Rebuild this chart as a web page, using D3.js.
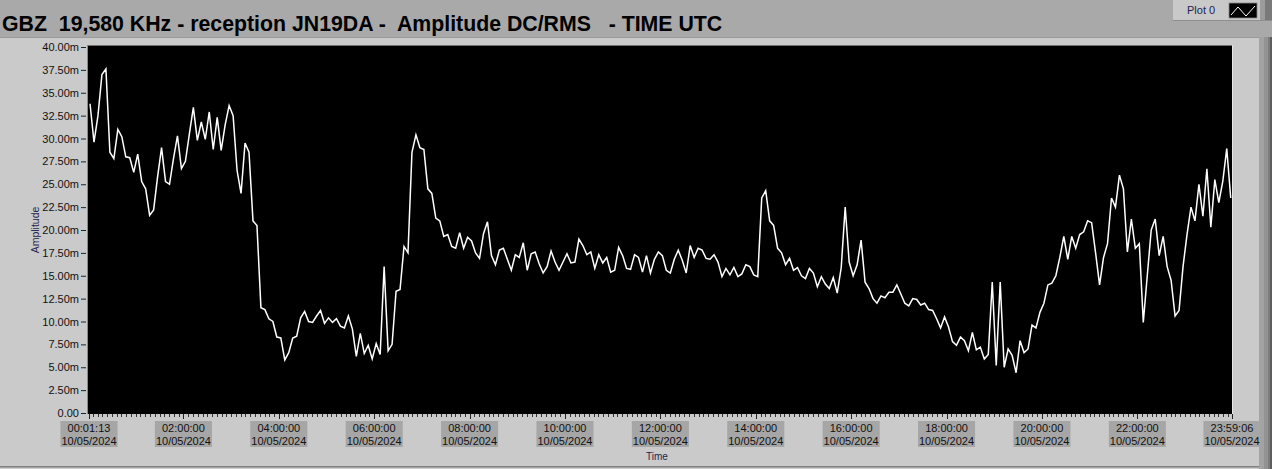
<!DOCTYPE html>
<html><head><meta charset="utf-8">
<script src="https://cdn.jsdelivr.net/npm/d3@7"></script>
<style>
html,body{margin:0;padding:0;background:#cacaca;overflow:hidden}
svg{display:block}
text{font-family:"Liberation Sans",Arial,sans-serif}
</style>
</head><body>
<svg id="c" width="1272" height="469"></svg>
<script>
// ---------------- data ----------------
const titleText = "GBZ  19,580 KHz - reception JN19DA -  Amplitude DC/RMS   - TIME UTC";
const legendLabel = "Plot 0";
const yAxisLabel = "Amplitude";
const xAxisLabel = "Time";
const dateLabel = "10/05/2024";
const timeStart = "2024-05-10 00:01:13";
const timeEnd = "2024-05-10 23:59:06";
const xTickTimes = ["00:01:13","02:00:00","04:00:00","06:00:00","08:00:00","10:00:00","12:00:00","14:00:00","16:00:00","18:00:00","20:00:00","22:00:00","23:59:06"];
const yTickValues = [0,2.5,5,7.5,10,12.5,15,17.5,20,22.5,25,27.5,30,32.5,35,37.5,40];
const minorTickMinutes = 6;
// samples every 5 minutes, first sample at 00:02:30 (amplitude in mV)
const sampleStartMinute = 2.5;
const sampleStepMinutes = 5;
const amplitude = [
 33.8,29.6, 32.5,37.0, 37.6,28.5, 27.8,31.0, 30.2,28.0, 27.9,26.3, 28.3,25.3, 24.5,21.6, 22.2,25.8, 29.0,25.3,
 25.0,27.8, 30.3,26.7, 27.5,30.5, 33.4,29.8, 31.8,29.9, 32.9,28.8, 32.3,28.7, 31.5,33.6, 32.5,26.5, 24.0,29.5,
 28.5,21.0, 20.5,11.5, 11.3,10.3, 10.0,8.3, 8.2,5.8, 6.6,8.2, 8.4,10.4, 11.1,10.0, 9.9,10.6, 11.2,9.8,
 10.4,9.9, 10.3,9.5, 9.3,10.6, 9.2,6.2, 8.7,6.5, 7.4,5.9, 7.6,6.4, 16.0,6.8, 7.5,13.3, 13.5,18.2,
 17.5,28.5, 30.4,29.0, 28.8,24.5, 24.0,21.3, 21.0,19.3, 19.5,18.2, 18.0,19.7, 18.0,19.2, 18.8,17.5, 16.9,19.6,
 20.9,17.2, 16.2,17.8, 18.0,16.8, 15.6,17.3, 17.0,18.6, 15.6,17.4, 17.6,16.3, 15.3,16.0, 17.7,16.5, 15.6,16.5,
 17.4,16.4, 16.5,19.0, 18.3,17.3, 17.6,15.8, 17.3,16.4, 17.0,15.4, 15.6,18.1, 17.2,15.8, 15.7,17.3, 17.0,15.4,
 17.2,15.3, 16.8,17.6, 17.2,15.6, 15.3,16.8, 17.8,16.7, 15.3,18.3, 17.0,18.0, 17.8,16.9, 16.8,17.3, 16.5,14.9,
 15.8,15.1, 15.9,14.9, 15.2,16.2, 16.0,15.1, 14.9,23.5, 24.3,21.0, 20.5,18.0, 17.5,16.2, 16.9,15.6, 15.9,15.0,
 14.7,15.8, 15.3,13.8, 14.9,14.1, 13.6,14.8, 13.1,15.9, 22.5,16.5, 15.0,16.2, 18.9,14.3, 13.6,12.5, 12.0,12.8,
 12.6,13.2, 13.2,14.0, 13.0,12.0, 11.7,12.5, 12.4,11.8, 12.0,11.3, 11.2,10.3, 9.3,10.5, 9.4,7.8, 7.4,8.3,
 7.9,6.8, 8.8,6.9, 7.2,5.9, 6.4,14.3, 5.2,14.3, 5.0,7.0, 6.3,4.4, 7.9,6.6, 7.0,9.6, 9.3,11.0,
 12.0,14.0, 14.2,15.0, 17.0,19.3, 16.8,19.3, 18.0,19.5, 19.8,21.0, 20.8,17.5, 14.0,17.0, 18.5,23.5, 22.5,26.0,
 24.5,17.6, 21.2,18.0, 18.5,9.9, 15.0,20.0, 21.2,17.2, 19.3,16.0, 14.5,10.6, 11.2,16.0, 19.5,22.5, 21.0,25.0,
 21.5,26.7, 20.3,25.5, 23.0,25.3, 28.9,23.5
];

// ---------------- drawing ----------------
const W = 1272, H = 469;
const P = {left: 89, right: 1232, top: 46, bottom: 414};
const svg = d3.select("#c");
const parse = d3.timeParse("%Y-%m-%d %H:%M:%S");
const t0 = parse(timeStart), t1 = parse(timeEnd);
const day0 = d3.timeDay.floor(t0);

const x = d3.scaleTime().domain([t0, t1]).range([P.left, P.right]);
const y = d3.scaleLinear().domain([0, 40]).range([413, 47]);

// panel backgrounds
svg.append("rect").attr("width", W).attr("height", H).attr("fill", "#cacaca");
svg.append("rect").attr("width", W).attr("height", 37).attr("fill", "#a9a9a9");
svg.append("rect").attr("x", 0).attr("y", 37).attr("width", 1259).attr("height", 1).attr("fill", "#999999");
// right bevel strips
[[1259,5,"#a3a3a3"],[1264,4,"#939393"],[1268,2,"#7c7c7c"],[1270,2,"#5e5e5e"]].forEach(s =>
  svg.append("rect").attr("x", s[0]).attr("y", 37).attr("width", s[1]).attr("height", H - 37).attr("fill", s[2]));
svg.append("rect").attr("x", 0).attr("y", 466).attr("width", 1259).attr("height", 1.5).attr("fill", "#808080");

// legend box
svg.append("rect").attr("x", 1173).attr("y", 0).attr("width", 87).attr("height", 20).attr("fill", "#c9c9c9");
svg.append("rect").attr("x", 1173).attr("y", 20).attr("width", 99).attr("height", 1).attr("fill", "#8e8e8e");
svg.append("rect").attr("x", 1260).attr("y", 0).attr("width", 5).attr("height", 20).attr("fill", "#9c9c9c");
svg.append("rect").attr("x", 1265).attr("y", 0).attr("width", 7).attr("height", 20).attr("fill", "#7a7a7a");
svg.append("text").attr("x", 1187).attr("y", 14).attr("font-size", 11).attr("fill", "#1d2450").text(legendLabel);
svg.append("rect").attr("x", 1229).attr("y", 3).attr("width", 28).attr("height", 15).attr("fill", "#000").attr("stroke", "#888").attr("stroke-width", 0.8);
svg.append("polyline").attr("points", "1231,15 1238,7 1246,16 1255,6").attr("fill", "none").attr("stroke", "#fff").attr("stroke-width", 1);

// title
svg.append("text").attr("x", 2).attr("y", 31).attr("font-size", 21.3).attr("font-weight", "bold")
  .attr("fill", "#000").style("white-space", "pre").attr("xml:space", "preserve").text(titleText);

// plot area
svg.append("rect").attr("x", P.left - 1).attr("y", P.top).attr("width", P.right - P.left + 1).attr("height", P.bottom - P.top).attr("fill", "#000");
svg.append("rect").attr("x", P.left - 1).attr("y", P.top - 1).attr("width", P.right - P.left + 2).attr("height", 1).attr("fill", "#707070");
svg.append("rect").attr("x", P.left - 2).attr("y", P.top - 1).attr("width", 1).attr("height", P.bottom - P.top + 1).attr("fill", "#8a8a8a");
svg.append("rect").attr("x", P.right).attr("y", P.top - 1).attr("width", 1).attr("height", P.bottom - P.top + 1).attr("fill", "#e6e6e6");

svg.append("clipPath").attr("id", "clip").append("rect")
  .attr("x", P.left - 1).attr("y", P.top).attr("width", P.right - P.left + 1).attr("height", P.bottom - P.top);

const data = amplitude.map((v, i) => ({t: d3.timeSecond.offset(day0, Math.round((sampleStartMinute + i * sampleStepMinutes) * 60)), v}));
const line = d3.line().x(d => x(d.t)).y(d => y(d.v));
svg.append("path").datum(data).attr("clip-path", "url(#clip)")
  .attr("d", line).attr("fill", "none").attr("stroke", "#fff").attr("stroke-width", 1.5).attr("stroke-linejoin", "miter");

// y axis
const yAxis = d3.axisLeft(y).tickValues(yTickValues).tickSize(5).tickPadding(2)
  .tickFormat(v => v === 0 ? "0.00" : v.toFixed(2) + "m");
const gy = svg.append("g").attr("transform", `translate(${P.left - 3},0)`).call(yAxis);
gy.select(".domain").remove();
gy.selectAll(".tick line").attr("stroke", "#222");
gy.selectAll(".tick text").attr("font-size", 11).attr("fill", "#111").attr("font-family", '"Liberation Sans",Arial,sans-serif');

svg.append("text").attr("transform", "translate(39,230) rotate(-90)").attr("text-anchor", "middle")
  .attr("font-size", 10.5).attr("fill", "#1d2450").text(yAxisLabel);

// x axis ticks
const tickDates = xTickTimes.map(s => parse("2024-05-10 " + s));
const minor = d3.timeMinute.every(minorTickMinutes).range(t0, t1);
const gx = svg.append("g");
gx.selectAll("line.minor").data(minor).join("line").attr("class", "minor")
  .attr("x1", d => Math.round(x(d)) + 0.5).attr("x2", d => Math.round(x(d)) + 0.5)
  .attr("y1", P.bottom).attr("y2", P.bottom + 3).attr("stroke", "#333");
gx.selectAll("line.major").data(tickDates).join("line").attr("class", "major")
  .attr("x1", d => Math.round(x(d)) + 0.5).attr("x2", d => Math.round(x(d)) + 0.5)
  .attr("y1", P.bottom).attr("y2", P.bottom + 5).attr("stroke", "#222");

const fmt = d3.timeFormat("%H:%M:%S");
const lab = svg.append("g").selectAll("g").data(tickDates).join("g");
lab.each(function(d) {
  const g = d3.select(this);
  const cx = x(d);
  const bg = g.append("rect").attr("fill", "#a6a6a6");
  const t1 = g.append("text").attr("x", cx).attr("y", 432).attr("text-anchor", "middle").attr("font-size", 11).attr("fill", "#111").text(fmt(d));
  const t2 = g.append("text").attr("x", cx).attr("y", 445).attr("text-anchor", "middle").attr("font-size", 11).attr("fill", "#111").text(dateLabel);
  const w = Math.max(t1.node().getComputedTextLength(), t2.node().getComputedTextLength()) + 2;
  bg.attr("x", cx - w / 2).attr("y", 421).attr("width", w).attr("height", 26);
});

svg.append("text").attr("x", 657).attr("y", 460).attr("text-anchor", "middle")
  .attr("font-size", 10).attr("fill", "#1d2450").text(xAxisLabel);
</script>
</body></html>
